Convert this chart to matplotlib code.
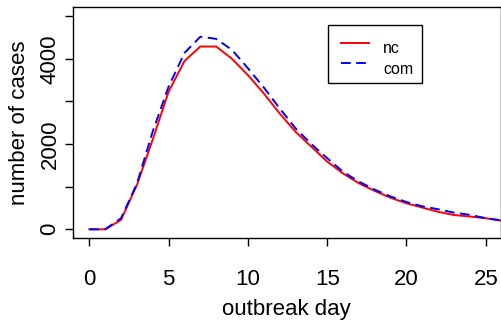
import matplotlib
matplotlib.use('Agg')
import matplotlib.pyplot as plt
from matplotlib.patches import Rectangle
from matplotlib.lines import Line2D

# Courbes epidemiques
days = list(range(0, 27))
nc = [0, 0, 220, 1040, 2110, 3230, 3950, 4290, 4290, 4000, 3620, 3190, 2720,
      2290, 1940, 1590, 1310, 1080, 900, 740, 610, 510, 410, 335, 300, 260, 200]
com = [0, 0, 260, 1070, 2300, 3350, 4140, 4520, 4470, 4210, 3780, 3330, 2840,
       2370, 2000, 1670, 1350, 1120, 930, 770, 640, 540, 470, 390, 340, 260, 210]
series_names = ['nc', 'com']

xticks = [0, 5, 10, 15, 20, 25]
yticks = [0, 1000, 2000, 3000, 4000, 5000]
ytick_labels = ['0', '', '2000', '', '4000', '']

plt.rcParams['font.family'] = ['Liberation Sans', 'DejaVu Sans']

W, H = 501, 325
fig = plt.figure(figsize=(W / 100, H / 100), dpi=100)
ax = fig.add_axes([73 / W, 1 - 238 / H, (501 - 73) / W, (238 - 7) / H])

ax.plot(days, nc, color='red', lw=1.4)
ax.plot(days, com, color='blue', lw=1.4, dashes=(5, 2.8))

ax.set_xlim(-1.03, 25.96)
ax.set_ylim(-204, 5218)

ax.set_xticks(xticks)
ax.set_xticklabels([str(t) for t in xticks])
ax.set_yticks(yticks)
ax.set_yticklabels(ytick_labels, rotation=90, va='center')

ax.tick_params(axis='x', direction='out', length=6, width=1, labelsize=16, pad=16)
ax.tick_params(axis='y', direction='out', length=6, width=1, labelsize=16, pad=3)
for s in ax.spines.values():
    s.set_linewidth(1.0)

fig.text(286.5 / W, 1 - 310 / H, 'outbreak day', ha='center', va='center', fontsize=16)
fig.text(20 / W, 1 - 123 / H, 'number of cases', ha='center', va='center',
         rotation=90, fontsize=16)

# legende faite a la main (texte un peu sous le trait, comme dans R)
fig.add_artist(Rectangle((327.5 / W, 1 - 82.5 / H), 94.5 / W, 57.5 / H,
                         transform=fig.transFigure, fill=False,
                         edgecolor='black', linewidth=1.0))
styles = [dict(color='red'), dict(color='blue', dashes=(5, 2.8))]
for i, (name, st) in enumerate(zip(series_names, styles)):
    yl = 42.7 + i * 20.6
    fig.add_artist(Line2D([341 / W, 369 / W], [1 - yl / H, 1 - yl / H],
                          transform=fig.transFigure, lw=1.4, **st))
    fig.text(383.3 / W, 1 - (yl + 10.3) / H, name, ha='left', va='baseline',
             fontsize=11.5)

fig.savefig('out.png', dpi=100)
